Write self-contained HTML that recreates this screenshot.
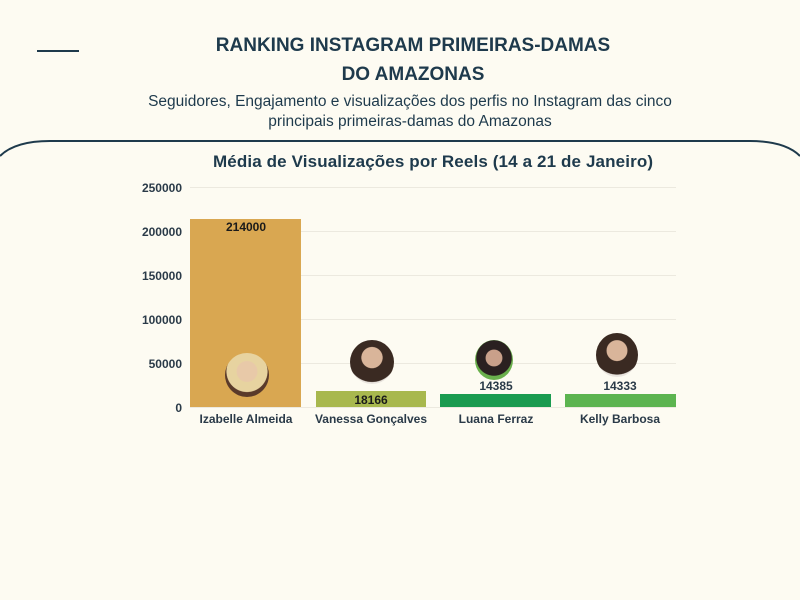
<!DOCTYPE html>
<html style="width:800px;height:600px;overflow:hidden"><head><meta charset="utf-8"><style>
body{margin:0;width:800px;height:600px;background:#fdfbf2;font-family:"Liberation Sans","DejaVu Sans",sans-serif;position:relative;overflow:hidden;color:#1e3a4c}
.t{position:absolute;left:0;width:826px;text-align:center;font-weight:bold;font-size:19px;line-height:26px}
.s{position:absolute;left:0;width:820px;text-align:center;font-size:15.5px;line-height:21px}
.avatar{position:absolute;width:44px;height:44px;border-radius:50%;background:radial-gradient(circle at 50% 40%,#d9b59a 0 30%,#3a2a22 32% 70%,#e9e4de 72%)}
</style></head><body>
<div style="position:absolute;left:37px;top:50px;width:42px;height:2px;background:#1e3a4c"></div>
<div class="t" style="top:33px">RANKING INSTAGRAM PRIMEIRAS-DAMAS</div>
<div class="t" style="top:62px">DO AMAZONAS</div>
<div class="s" style="top:91px">Seguidores, Engajamento e visualizações dos perfis no Instagram das cinco</div>
<div class="s" style="top:111px">principais primeiras-damas do Amazonas</div>
<svg width="800" height="600" style="position:absolute;left:0;top:0" font-family="Liberation Sans, sans-serif">
<path d="M0,156 Q15,141 50,141 L750,141 Q785,141 800,156" fill="none" stroke="#1e3a4c" stroke-width="2"/>
<text x="433" y="167" text-anchor="middle" font-size="17" font-weight="bold" fill="#1e3a4c" textLength="440">Média de Visualizações por Reels (14 a 21 de Janeiro)</text>
<g stroke="#ece9df" stroke-width="1">
<line x1="190" x2="676" y1="187.5" y2="187.5"/><line x1="190" x2="676" y1="231.5" y2="231.5"/><line x1="190" x2="676" y1="275.5" y2="275.5"/><line x1="190" x2="676" y1="319.5" y2="319.5"/><line x1="190" x2="676" y1="363.5" y2="363.5"/><line x1="190" x2="676" y1="407.5" y2="407.5"/></g>
<g font-size="12" font-weight="bold" fill="#2a3a48" text-anchor="end">
<text x="182" y="192">250000</text><text x="182" y="236">200000</text><text x="182" y="280">150000</text><text x="182" y="324">100000</text><text x="182" y="368">50000</text><text x="182" y="412">0</text></g>
<rect x="190" y="219" width="111" height="188" fill="#d9a751"/>
<rect x="316" y="391" width="110" height="16" fill="#a8b84e"/>
<rect x="440" y="394" width="111" height="13" fill="#1a9b50"/>
<rect x="565" y="394" width="111" height="13" fill="#5cb450"/>
<g font-size="12" font-weight="bold" fill="#1a1a1a" text-anchor="middle">
<text x="246" y="231">214000</text><text x="371" y="404">18166</text><text x="496" y="390" fill="#2a3a48">14385</text><text x="620" y="390" fill="#2a3a48">14333</text></g>
<g font-size="12" font-weight="bold" fill="#2a3a48" text-anchor="middle">
<text x="246" y="423">Izabelle Almeida</text><text x="371" y="423">Vanessa Gonçalves</text><text x="496" y="423">Luana Ferraz</text><text x="620" y="423">Kelly Barbosa</text></g>
</svg>
<div class="avatar" style="left:225px;top:353px;background:radial-gradient(circle at 50% 42%,#e8c9a8 0 30%,#e7d3a0 32% 60%,#5a3a2a 62%)"></div>
<div class="avatar" style="left:350px;top:340px"></div>
<div class="avatar" style="left:475px;top:340px;width:38px;height:40px;background:radial-gradient(circle at 50% 45%,#c9a08a 0 28%,#2a2020 30% 60%,#6ab04c 62%)"></div>
<div class="avatar" style="left:596px;top:333px;width:42px"></div>
</body></html>
